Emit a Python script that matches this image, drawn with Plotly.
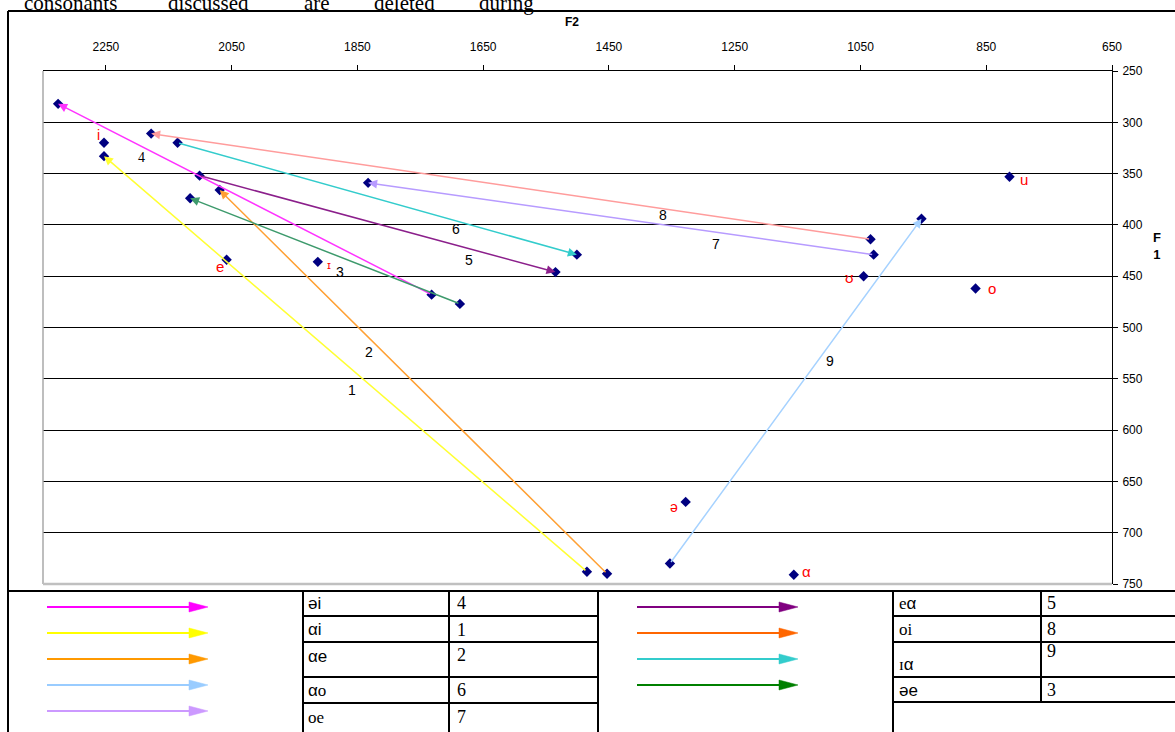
import plotly.graph_objects as go

# ---------------- data ----------------
# monophthong targets (F2, F1 in Hz)
vowel_labels = ["i", "e", "ɪ", "ʊ", "u", "o", "ə", "α"]
vowel_f2 = [2253, 2058, 1913, 1045, 813, 867, 1328, 1156]
vowel_f1 = [320, 434, 436, 450, 353, 462, 670, 741]

# diphthong trajectories: start point -> end point
diph_numbers = ["4", "1", "2", "9", "7", "8", "6", "5", "3"]
diph_start_f2 = [1732, 1485, 1453, 1353, 1029, 1034, 2136, 2101, 1687]
diph_start_f1 = [468, 738, 740, 730, 429, 414, 320, 352, 477]
diph_end_f2 = [2326, 2253, 2069, 953, 1833, 2178, 1501, 1535, 2116]
diph_end_f1 = [282, 333, 366, 394, 359, 311, 429, 446, 374]

# legend table
legend_left_symbols = ["əi", "αi", "αe", "αo", "oe"]
legend_left_numbers = ["4", "1", "2", "6", "7"]
legend_right_symbols = ["eα", "oi", "ɪα", "əe"]
legend_right_numbers = ["5", "8", "9", "3"]

x_ticks = [2250, 2050, 1850, 1650, 1450, 1250, 1050, 850, 650]
y_ticks = [250, 300, 350, 400, 450, 500, 550, 600, 650, 700, 750]

# ---------------- styles ----------------
diph_colors = ["#FF33FF", "#FFFF33", "#FFA033", "#A6D2FF", "#B79BFF",
               "#FF9C9C", "#33CCCC", "#8B1F8B", "#3D9A6C"]
label_pos_f2 = [2193, 1859, 1832, 1099, 1280, 1364, 1694, 1673, 1877]
label_pos_f1 = [334, 561, 524, 533, 419, 390, 404, 434, 446]
label_fonts = ["Liberation Serif", "Arial", "Arial", "Arial", "Arial", "Arial",
               "Arial", "Arial", "Arial"]
vowel_shift = [(-6, 8), (-7, -7), (11, -3), (-14, -1), (14, -3), (16, 0),
               (-12, -5), (13, 3)]
vowel_sizes = [14, 15, 11, 15, 15, 15, 14, 15]
legend_left_colors = ["#FF00FF", "#FFFF00", "#FF9900", "#99CCFF", "#CC99FF"]
legend_right_colors = ["#800080", "#FF6600", "#33CCCC", "#008000"]

W_FIG, H_FIG = 1175, 732
L, R, T, B = 43, 1112, 71, 584
PW, PH = R - L, B - T


def px(x):
    return (x - L) / PW


def py(y):
    return (B - y) / PH


SANS = "Liberation Sans, Arial"
SERIF = "Liberation Serif, Times New Roman"

fig = go.Figure()

# markers
all_f2 = vowel_f2 + diph_start_f2 + diph_end_f2
all_f1 = vowel_f1 + diph_start_f1 + diph_end_f1
fig.add_trace(go.Scatter(x=all_f2, y=all_f1, mode="markers",
                         marker=dict(symbol="diamond", size=8, color="#000080"),
                         hoverinfo="x+y", showlegend=False))

annotations = []
# trajectories
for i in range(len(diph_numbers)):
    annotations.append(dict(x=diph_end_f2[i], y=diph_end_f1[i],
                            ax=diph_start_f2[i], ay=diph_start_f1[i],
                            xref="x", yref="y", axref="x", ayref="y",
                            text="", showarrow=True, arrowhead=2, arrowsize=1.2,
                            arrowwidth=1.5, arrowcolor=diph_colors[i], standoff=0))
    annotations.append(dict(x=label_pos_f2[i], y=label_pos_f1[i], xref="x", yref="y",
                            text=diph_numbers[i], showarrow=False,
                            xanchor="center", yanchor="middle",
                            font=dict(family=label_fonts[i], size=14, color="#000")))
# vowel labels
for i, lab in enumerate(vowel_labels):
    annotations.append(dict(x=vowel_f2[i], y=vowel_f1[i], xref="x", yref="y",
                            text=lab, showarrow=False, xanchor="center", yanchor="middle",
                            xshift=vowel_shift[i][0], yshift=vowel_shift[i][1],
                            font=dict(family=SANS, size=vowel_sizes[i], color="#FF0000")))

# axis titles
annotations.append(dict(x=px(572), y=py(22), xref="paper", yref="paper", text="<b>F2</b>",
                        showarrow=False, xanchor="center", yanchor="middle",
                        font=dict(family=SANS, size=12, color="#000")))
annotations.append(dict(x=px(1157), y=py(246), xref="paper", yref="paper",
                        text="<b>F</b><br><b>1</b>", showarrow=False,
                        xanchor="center", yanchor="middle",
                        font=dict(family=SANS, size=13, color="#000")))

# truncated running text at the top
words = ["consonants", "discussed", "are", "deleted", "during"]
word_x = [22, 166, 302, 372, 477]
for w, wx in zip(words, word_x):
    annotations.append(dict(x=px(wx), y=py(3), xref="paper", yref="paper", text=w,
                            showarrow=False, xanchor="left", yanchor="middle",
                            font=dict(family=SERIF, size=21, color="#000")))


def span(txt, fam):
    return '<span style="font-family:%s">%s</span>' % (fam, txt)


left_sym_html = [span("əi", SANS), span("α", SANS) + span("i", SANS),
                 span("αe", SANS), span("α", SANS) + span("o", SERIF), span("oe", SERIF)]
right_sym_html = [span("e", SERIF) + span("α", SANS), span("oi", SERIF),
                  span("ɪ", SERIF) + span("α", SANS), span("əe", SANS)]
left_text_y = [603, 630, 656, 690, 717]
left_num_y = [603, 630, 655, 690, 717]
right_text_y = [603, 629, 664, 690]
right_num_y = [603, 629, 651, 690]
for i in range(len(legend_left_symbols)):
    annotations.append(dict(x=px(306), y=py(left_text_y[i]), xref="paper", yref="paper",
                            text=left_sym_html[i], showarrow=False, xanchor="left",
                            yanchor="middle",
                            font=dict(family=SANS, size=17, color="#000")))
    annotations.append(dict(x=px(455), y=py(left_num_y[i]), xref="paper", yref="paper",
                            text=legend_left_numbers[i], showarrow=False, xanchor="left",
                            yanchor="middle",
                            font=dict(family=SERIF, size=18, color="#000")))
for i in range(len(legend_right_symbols)):
    annotations.append(dict(x=px(897), y=py(right_text_y[i]), xref="paper", yref="paper",
                            text=right_sym_html[i], showarrow=False, xanchor="left",
                            yanchor="middle",
                            font=dict(family=SANS, size=17, color="#000")))
    annotations.append(dict(x=px(1045), y=py(right_num_y[i]), xref="paper", yref="paper",
                            text=legend_right_numbers[i], showarrow=False, xanchor="left",
                            yanchor="middle",
                            font=dict(family=SERIF, size=18, color="#000")))

shapes = []


def hline(x0, x1, y, color="#000", width=2):
    shapes.append(dict(type="line", xref="paper", yref="paper", x0=px(x0), x1=px(x1),
                       y0=py(y), y1=py(y), line=dict(color=color, width=width), layer="above"))


def vline(x, y0, y1, color="#000", width=2):
    shapes.append(dict(type="line", xref="paper", yref="paper", x0=px(x), x1=px(x),
                       y0=py(y0), y1=py(y1), line=dict(color=color, width=width), layer="above"))


# plot area borders (gray)
vline(L, T, B, color="#A8A8A8", width=1.5)
hline(L, R, B, color="#C0C0C0", width=2.5)
# outer frame
hline(8, W_FIG, 11)
vline(8, 11, W_FIG)
# table
hline(8, W_FIG, 591)
for x in [303, 449, 598, 893]:
    vline(x, 591, 740)
vline(1041, 591, 702)
for y in [616, 642, 677, 703]:
    hline(303, 598, y)
for y in [616, 642, 677, 702]:
    hline(893, W_FIG, y)


# legend arrows
def legend_arrow(x0, x1, y, color):
    hline(x0, x1 - 16, y, color=color, width=1.8)
    path = "M %f,%f L %f,%f L %f,%f Z" % (px(x1 - 19), py(y - 5), px(x1), py(y),
                                          px(x1 - 19), py(y + 5))
    shapes.append(dict(type="path", xref="paper", yref="paper", path=path,
                       fillcolor=color, line=dict(color=color, width=0.5), layer="above"))


left_arrow_y = [607, 633, 659, 685, 711]
right_arrow_y = [607, 633, 659, 685]
for c, y in zip(legend_left_colors, left_arrow_y):
    legend_arrow(47, 208, y, c)
for c, y in zip(legend_right_colors, right_arrow_y):
    legend_arrow(637, 798, y, c)

fig.update_layout(
    width=W_FIG, height=H_FIG, autosize=False,
    margin=dict(l=L, r=W_FIG - R, t=T, b=H_FIG - B, pad=0),
    paper_bgcolor="white", plot_bgcolor="white",
    showlegend=False,
    annotations=annotations, shapes=shapes,
    xaxis=dict(range=[2350, 650], side="top", tickvals=x_ticks, showgrid=False,
               zeroline=False, showline=True, linecolor="#000", linewidth=1,
               ticks="outside", ticklen=5, tickcolor="#000", ticklabelstandoff=9,
               tickfont=dict(family=SANS, size=12, color="#000")),
    yaxis=dict(range=[750, 250], side="right", tickvals=y_ticks, showgrid=True,
               gridcolor="#000", gridwidth=1, zeroline=False, showline=True,
               linecolor="#000", linewidth=1, ticks="outside", ticklen=5,
               tickcolor="#000", ticklabelstandoff=2,
               tickfont=dict(family=SANS, size=12, color="#000")),
)

fig.write_html("out.html", config={"displayModeBar": False},
               post_script="document.body.style.margin='0px';document.body.style.overflow='hidden';")
